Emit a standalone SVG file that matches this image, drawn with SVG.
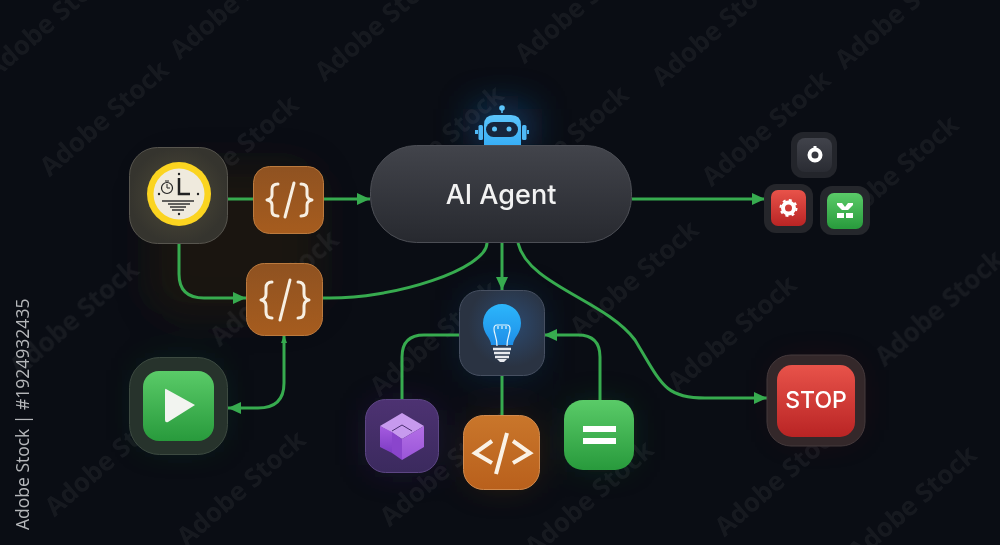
<svg xmlns="http://www.w3.org/2000/svg" width="1000" height="545" viewBox="0 0 1000 545">
<style>
.wm{font:700 26px "Open Sans","Liberation Sans",sans-serif;fill:#fff;opacity:.05;text-anchor:middle}
.c{fill:none;stroke:#37ab4f;stroke-width:3}
.brace{fill:none;stroke:#f7efe2;stroke-width:3;stroke-linecap:round;stroke-linejoin:round}
.ui{font-family:Inter,"Liberation Sans",sans-serif;text-anchor:middle}
</style>
<defs>
<marker id="a" markerUnits="userSpaceOnUse" markerWidth="14" markerHeight="12" refX="13" refY="6" orient="auto"><path d="M0,0L13,6L0,12Z" fill="#37ab4f"/></marker>
<linearGradient id="gAgent" x1="0" y1="0" x2="0" y2="1"><stop offset="0" stop-color="#42444b"/><stop offset="1" stop-color="#27292f"/></linearGradient>
<radialGradient id="gClock"><stop offset="0" stop-color="#4f4b38"/><stop offset="1" stop-color="#35342e"/></radialGradient>
<linearGradient id="gBrown" x1="0" y1="0" x2="0" y2="1"><stop offset="0" stop-color="#8f5221"/><stop offset="1" stop-color="#a65c1e"/></linearGradient>
<linearGradient id="gOrange" x1="0" y1="0" x2="0" y2="1"><stop offset="0" stop-color="#c9762b"/><stop offset="1" stop-color="#b9601c"/></linearGradient>
<linearGradient id="gGreen" x1="0" y1="0" x2="0" y2="1"><stop offset="0" stop-color="#5acb68"/><stop offset="1" stop-color="#289a3c"/></linearGradient>
<linearGradient id="gPurple" x1="0" y1="0" x2="0" y2="1"><stop offset="0" stop-color="#4d3272"/><stop offset="1" stop-color="#3b2a5e"/></linearGradient>
<linearGradient id="gRed" x1="0" y1="0" x2="0" y2="1"><stop offset="0" stop-color="#e8534a"/><stop offset="1" stop-color="#b92424"/></linearGradient>
<radialGradient id="gBulb" cx=".6" cy=".4"><stop offset="0" stop-color="#2c4a70"/><stop offset="1" stop-color="#2a3342"/></radialGradient>
<linearGradient id="gDark" x1="0" y1="0" x2="0" y2="1"><stop offset="0" stop-color="#41434b"/><stop offset="1" stop-color="#2a2c33"/></linearGradient>
<linearGradient id="gBot" x1="0" y1="0" x2="0" y2="1"><stop offset="0" stop-color="#5cc5fb"/><stop offset="1" stop-color="#38aef5"/></linearGradient>
<linearGradient id="gBulbIcon" x1="0" y1="0" x2="0" y2="1"><stop offset="0" stop-color="#2cb6fb"/><stop offset="1" stop-color="#1f8fe8"/></linearGradient>
<linearGradient id="gCubeL" x1="0" y1="0" x2="0" y2="1"><stop offset="0" stop-color="#a55be0"/><stop offset="1" stop-color="#7e3cc4"/></linearGradient>
<linearGradient id="gCubeR" x1="0" y1="0" x2="0" y2="1"><stop offset="0" stop-color="#b36fe6"/><stop offset="1" stop-color="#9a55d8"/></linearGradient>
<filter id="blur" x="-60%" y="-60%" width="220%" height="220%"><feGaussianBlur stdDeviation="18"/></filter>
</defs>
<rect width="1000" height="545" fill="#0a0d14"/>
<g id="glows" filter="url(#blur)">
<rect x="150" y="165" width="170" height="150" rx="30" fill="#5a3a15" opacity=".2"/>
<rect x="475" y="108" width="55" height="37" fill="#1d6fc0" opacity=".5"/>
<rect x="470" y="300" width="65" height="70" fill="#1d5fa8" opacity=".35"/>
<rect x="145" y="370" width="70" height="70" fill="#2fa84a" opacity=".25"/>
<rect x="375" y="410" width="55" height="55" fill="#6a35b0" opacity=".3"/>
<rect x="475" y="425" width="55" height="55" fill="#b8641e" opacity=".3"/>
<rect x="575" y="410" width="50" height="50" fill="#2fa84a" opacity=".3"/>
<rect x="785" y="370" width="65" height="60" fill="#c02a2a" opacity=".25"/>
</g>
<g id="watermarks">
<text class="wm" transform="translate(55,28) rotate(-41)">Adobe Stock</text>
<text class="wm" transform="translate(110,125) rotate(-41)">Adobe Stock</text>
<text class="wm" transform="translate(240,160) rotate(-41)">Adobe Stock</text>
<text class="wm" transform="translate(240,8) rotate(-41)">Adobe Stock</text>
<text class="wm" transform="translate(385,30) rotate(-41)">Adobe Stock</text>
<text class="wm" transform="translate(445,150) rotate(-41)">Adobe Stock</text>
<text class="wm" transform="translate(570,150) rotate(-41)">Adobe Stock</text>
<text class="wm" transform="translate(585,12) rotate(-41)">Adobe Stock</text>
<text class="wm" transform="translate(722,35) rotate(-41)">Adobe Stock</text>
<text class="wm" transform="translate(772,135) rotate(-41)">Adobe Stock</text>
<text class="wm" transform="translate(900,180) rotate(-41)">Adobe Stock</text>
<text class="wm" transform="translate(905,18) rotate(-41)">Adobe Stock</text>
<text class="wm" transform="translate(80,325) rotate(-41)">Adobe Stock</text>
<text class="wm" transform="translate(280,295) rotate(-41)">Adobe Stock</text>
<text class="wm" transform="translate(440,345) rotate(-41)">Adobe Stock</text>
<text class="wm" transform="translate(640,285) rotate(-41)">Adobe Stock</text>
<text class="wm" transform="translate(738,340) rotate(-41)">Adobe Stock</text>
<text class="wm" transform="translate(945,315) rotate(-41)">Adobe Stock</text>
<text class="wm" transform="translate(115,465) rotate(-41)">Adobe Stock</text>
<text class="wm" transform="translate(247,495) rotate(-41)">Adobe Stock</text>
<text class="wm" transform="translate(450,475) rotate(-41)">Adobe Stock</text>
<text class="wm" transform="translate(595,505) rotate(-41)">Adobe Stock</text>
<text class="wm" transform="translate(785,485) rotate(-41)">Adobe Stock</text>
<text class="wm" transform="translate(918,510) rotate(-41)">Adobe Stock</text>
</g>
<g id="connectors">
<path class="c" d="M228,199H253"/>
<path class="c" d="M324,199H370" marker-end="url(#a)"/>
<path class="c" d="M632,199H765" marker-end="url(#a)"/>
<path class="c" d="M179,244V274Q179,298 204,298H246" marker-end="url(#a)"/>
<path class="c" d="M323,298C395,300 487,268 487,243"/>
<path class="c" d="M502,243V290" marker-end="url(#a)"/>
<path class="c" d="M518,243C528,285 605,300 635,340C662,385 665,398 705,398H767" marker-end="url(#a)"/>
<path class="c" d="M284,336V383Q284,408 258,408H228" marker-end="url(#a)"/>
<path class="c" d="M402,399V357Q402,335 424,335H459"/>
<path class="c" d="M502,376V415"/>
<path class="c" d="M600,400V357Q600,335 578,335H544" marker-end="url(#a)"/>
<path d="M284,335l-3,8h6z" fill="#37ab4f"/>
</g>
<g id="node-clock">
<rect x="129.500" y="147.500" width="98" height="96" rx="28" fill="url(#gClock)" stroke="#57554e"/>
<circle cx="179" cy="194" r="32" fill="#fbd420"/>
<circle cx="179" cy="194" r="25.500" fill="#efeadd"/>
<path d="M179,178V194H190" fill="none" stroke="#222" stroke-width="2.500"/>
<circle cx="167" cy="188" r="5.500" fill="none" stroke="#222" stroke-width="1.200"/>
<path d="M167,184V188H170M165,181H169" fill="none" stroke="#222"/>
<path d="M162,201H194M168,204H190M170,207H186M172,210H184" stroke="#333" stroke-width="1.300"/>
<g fill="#222"><circle cx="179" cy="174" r="1.200"/><circle cx="159" cy="194" r="1.200"/><circle cx="198" cy="194" r="1.200"/><circle cx="179" cy="214" r="1.200"/></g>
</g>
<g id="node-code-1">
<rect x="253.500" y="166.500" width="70" height="67" rx="16" fill="url(#gBrown)" stroke="#bb7a3e"/>
<path class="brace" d="M278,184Q272,184 272,189V195Q272,199 267,200Q272,201 272,205V211Q272,216 278,216M301,184Q307,184 307,189V195Q307,199 312,200Q307,201 307,205V211Q307,216 301,216M294,183L285,217"/>
</g>
<g id="node-code-2">
<rect x="246.500" y="263.500" width="76" height="72" rx="18" fill="url(#gBrown)" stroke="#bb7a3e"/>
<path class="brace" d="M272,282Q266,282 266,288V294Q266,299 261,300Q266,301 266,306V312Q266,318 272,318M298,282Q304,282 304,288V294Q304,299 309,300Q304,301 304,306V312Q304,318 298,318M290,280L280,320"/>
</g>
<g id="node-robot">
<path d="M502,113V108" stroke="#5cc5fb" stroke-width="1.500"/>
<circle cx="502" cy="108" r="2.800" fill="#5cc5fb"/>
<path d="M484,145V125Q484,115 494,115H511Q521,115 521,125V145Z" fill="url(#gBot)"/>
<rect x="486" y="122" width="32" height="15" rx="7.500" fill="#17263d"/>
<circle cx="494.500" cy="129" r="2.500" fill="#5cc5fb"/>
<circle cx="509" cy="129" r="2.500" fill="#5cc5fb"/>
<rect x="478.500" y="125" width="4.500" height="15" rx="1.500" fill="#4fb8f5"/>
<rect x="522" y="125" width="4.500" height="15" rx="1.500" fill="#4fb8f5"/>
<rect x="475" y="130" width="3" height="4" fill="#4fb8f5"/>
<rect x="527" y="130" width="2" height="4" fill="#4fb8f5"/>
</g>
<g id="node-agent">
<rect x="370.500" y="145.500" width="261" height="97" rx="46" fill="url(#gAgent)" stroke="#4c4e55"/>
<text class="ui" x="501" y="204" font-size="27" font-weight="500" fill="#f2f2f2">AI Agent</text>
</g>
<g id="node-tools">
<rect x="791" y="132" width="46" height="46" rx="12" fill="#23252b"/>
<rect x="797" y="138" width="35" height="34" rx="8" fill="url(#gDark)"/>
<circle cx="815" cy="155" r="5.500" fill="none" stroke="#fff" stroke-width="4"/>
<rect x="813.500" y="146" width="3" height="4" fill="#fff"/>
<rect x="764" y="184" width="49" height="49" rx="12" fill="#25262b"/>
<rect x="771" y="190" width="35" height="36" rx="7" fill="url(#gRed)"/>
<circle cx="788.500" cy="208" r="5.500" fill="none" stroke="#fff" stroke-width="4"/>
<circle cx="788.500" cy="208" r="8" fill="none" stroke="#fff" stroke-width="2" stroke-dasharray="3 3.300"/>
<rect x="820" y="186" width="50" height="49" rx="12" fill="#25272c"/>
<rect x="827" y="193" width="36" height="36" rx="7" fill="url(#gGreen)"/>
<path d="M837,203h5l3,4 3,-4h5v2l-5,5h-6l-5,-5zM837,213h7v5h-7zM846,213h7v5h-7z" fill="#fff"/>
</g>
<g id="node-bulb">
<rect x="459.500" y="290.500" width="85" height="85" rx="21" fill="url(#gBulb)" stroke="#475061"/>
<path d="M491,345C491,338 483,334 483,323A19,19 0 0 1 521,323C521,334 513,338 513,345Z" fill="url(#gBulbIcon)"/>
<path d="M497,346C497,337 494,334 494,329M507,346C507,337 510,334 510,329M494,329Q494,325 497,325H507Q510,325 510,329M498,329V326M502,329V326M506,329V326" fill="none" stroke="#e8f5fc" stroke-width="1.200"/>
<path d="M493,349H511M494,353H510M495,357H509" stroke="#e8eaee" stroke-width="2.500"/>
<path d="M497,359H507L504,362H500Z" fill="#e8eaee"/>
</g>
<g id="node-cube">
<rect x="365.500" y="399.500" width="73" height="73" rx="20" fill="url(#gPurple)" stroke="#5d4684"/>
<path d="M402,413L424,426L402,439L380,426Z" fill="#c79aee"/>
<path d="M380,426L392,432V453L380,447Z" fill="url(#gCubeL)"/>
<path d="M392,432L402,439V460L392,453Z" fill="#8a45cc"/>
<path d="M424,426L402,439V460L424,447Z" fill="url(#gCubeR)"/>
<path d="M392,431L402,425L412,431" fill="none" stroke="#4a2f70"/>
</g>
<g id="node-html">
<rect x="463.500" y="415.500" width="76" height="74" rx="20" fill="url(#gOrange)" stroke="#d18a4d"/>
<path d="M492,441L475,453L492,463M513,441L530,453L513,463M507,433L496,474" fill="none" stroke="#faf2e6" stroke-width="4"/>
</g>
<g id="node-equals">
<rect x="564" y="400" width="70" height="70" rx="19" fill="url(#gGreen)"/>
<rect x="583" y="426" width="33" height="6" fill="#fff"/>
<rect x="583" y="438" width="33" height="6" fill="#fff"/>
</g>
<g id="node-play">
<rect x="129.500" y="357.500" width="98" height="97" rx="30" fill="#27332c" stroke="#3d4a41"/>
<rect x="143" y="371" width="71" height="70" rx="16" fill="url(#gGreen)"/>
<path d="M166,389L195,405L168,422Q165,423 165,420V391Q165,388 166,389Z" fill="#f2f4f0"/>
</g>
<g id="node-stop">
<rect x="767" y="355" width="98" height="91" rx="24" fill="#34282a" stroke="#453a3c"/>
<rect x="777" y="365" width="78" height="72" rx="15" fill="url(#gRed)"/>
<text class="ui" x="816" y="408" font-size="23" font-weight="500" fill="#fff">STOP</text>
</g>
<text transform="translate(29,530) rotate(-90)" font-family="'Open Sans','Liberation Sans',sans-serif" font-size="17.500" fill="#b5b7ba" xml:space="preserve">Adobe Stock | #1924932435</text>
</svg>
